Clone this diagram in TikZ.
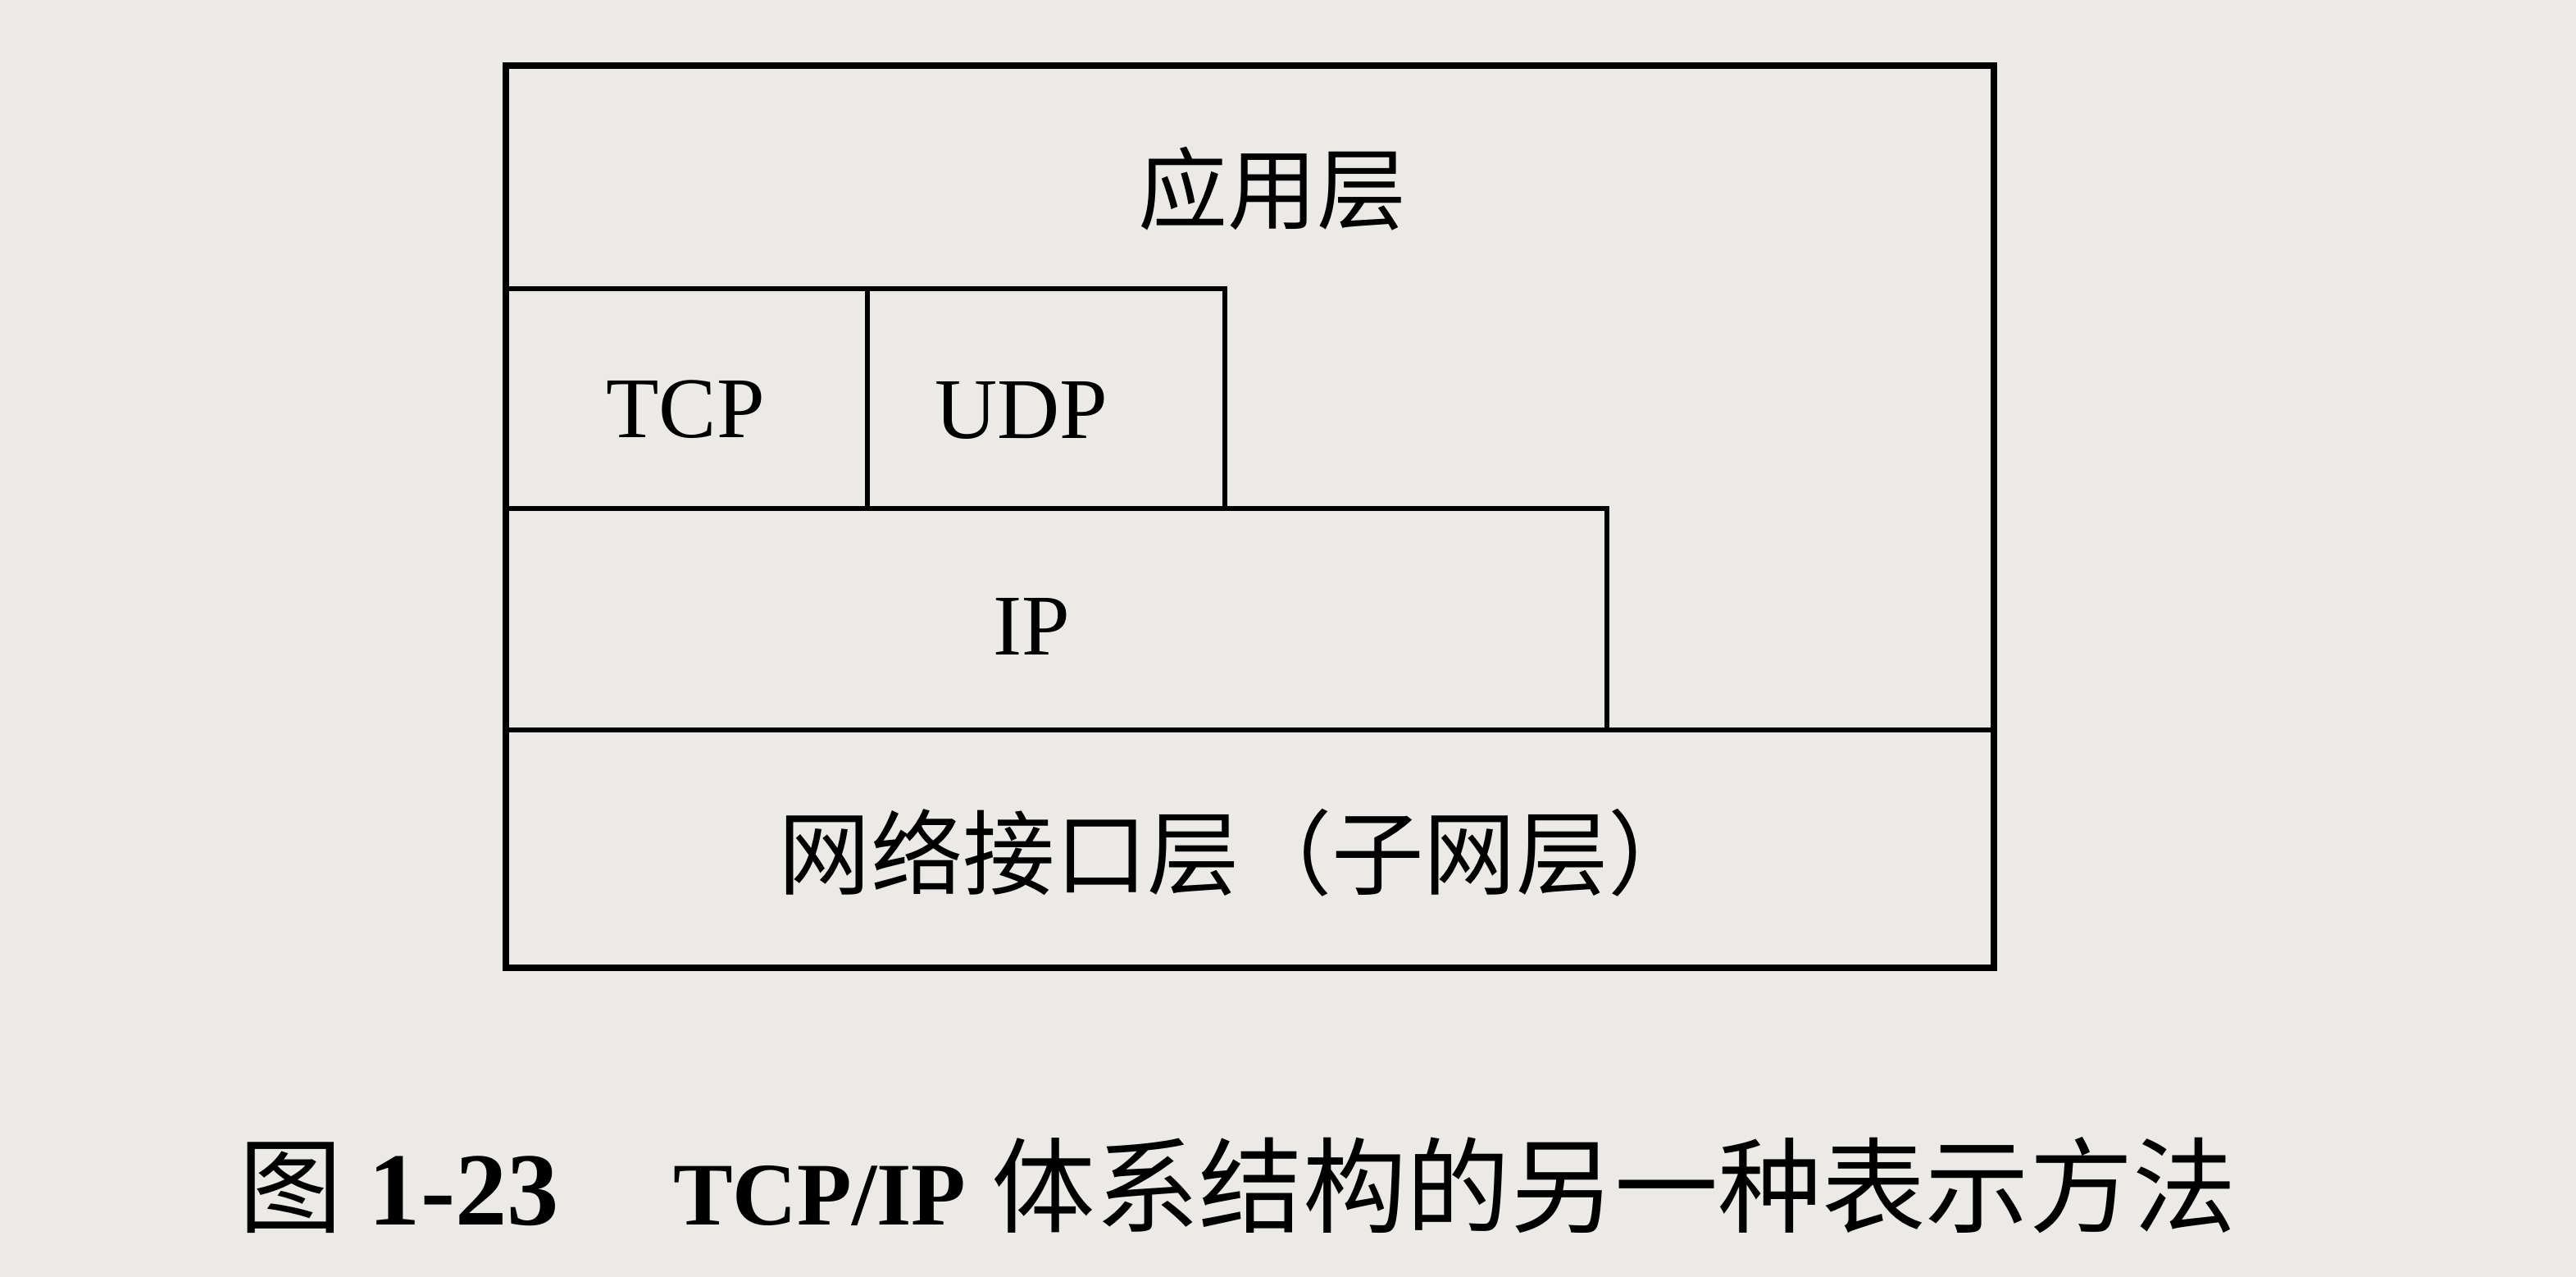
\documentclass[tikz,border=0pt]{standalone}
\usepackage{fontspec}
\setmainfont{Liberation Serif}
\newfontfamily\cjk{Noto Sans CJK SC}
\definecolor{paper}{RGB}{236,234,231}

\tikzstyle{layer} = [draw=black, line width=1.8pt, rectangle, inner sep=0, outer sep=0]
\tikzstyle{invisible} = [outer sep=0, inner sep=0, minimum size=0, font=\fontsize{30}{36}\selectfont]

\begin{document}
\begin{tikzpicture}

\fill[paper] (0,0) rectangle (31.42,15.57);
\useasboundingbox (0,0) rectangle (31.42,15.57);

%APPLICATION
\node [layer, line width=2.4pt, minimum width=18.15cm, minimum height=11cm] (frame) at (15.245,9.27) {};
\node [invisible, font=\fontsize{31}{36}\selectfont] (app) at (15.52,13.27) {\cjk 应用层};

%TRANSPORT
\node [layer, minimum width=4.41cm, minimum height=2.68cm] (tcp) at (8.375,10.71) {};
\node [layer, minimum width=4.36cm, minimum height=2.68cm] (udp) at (12.76,10.71) {};
\node [invisible] (tcptext) at (8.36,10.58) {TCP};
\node [invisible] (udptext) at (12.46,10.56) {UDP};

% INTERNET
\node [layer, minimum width=13.43cm, minimum height=2.70cm] (ip) at (12.885,8.02) {};
\node [invisible] (iptext) at (12.58,7.93) {IP};

% SUBNET
\node [layer, minimum width=18.15cm, minimum height=2.90cm] (net) at (15.245,5.22) {};
\node [invisible, font=\fontsize{32}{38}\selectfont] (nettext) at (15.12,5.17) {\cjk 网络接口层（子网层）};

\node [invisible, font=\fontsize{36}{40}\selectfont] (caption) at (15.10,1.12)
  {{\cjk 图} \textbf{1-23}\hspace{1.1em}{\fontsize{31}{36}\selectfont\textbf{TCP/IP}} {\cjk 体系结构的另一种表示方法}};

\end{tikzpicture}
\end{document}
